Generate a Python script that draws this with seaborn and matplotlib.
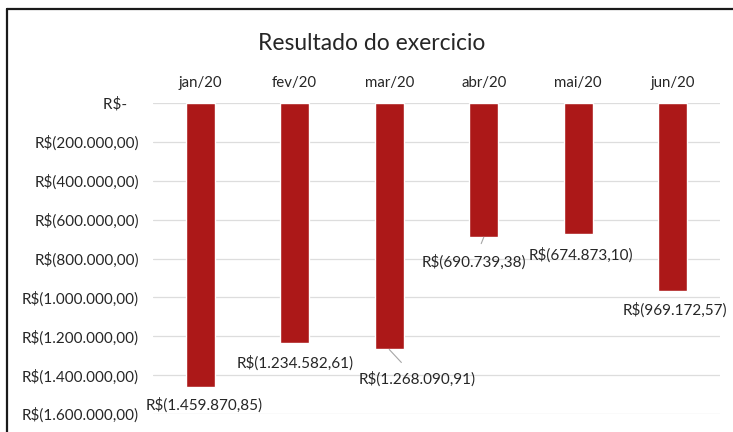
import matplotlib
matplotlib.use("Agg")
import matplotlib.pyplot as plt
import matplotlib.ticker as ticker
from matplotlib.lines import Line2D
import pandas as pd
import seaborn as sns


meses = ["jan/20", "fev/20", "mar/20", "abr/20", "mai/20", "jun/20"]
resultado = [-1459870.85, -1234582.61, -1268090.91, -690739.38, -674873.10, -969172.57]
y_ticks = [0, -200000, -400000, -600000, -800000, -1000000, -1200000, -1400000, -1600000]


def brl(v):
    """Formato contabil do Excel: R$(1.234,56) para negativos, R$- para zero."""
    if v == 0:
        return "R$-   "
    s = f"{abs(v):,.2f}".replace(",", "X").replace(".", ",").replace("X", ".")
    return f"R$({s})" if v < 0 else f"R${s}"


def main():
    df = pd.DataFrame({"Mes": meses, "Resultado": resultado})

    sns.set_style("white")
    plt.rcParams["font.family"] = ["Lato", "DejaVu Sans"]
    text_color = "#262626"

    fig = plt.figure(figsize=(7.33, 4.32), dpi=100)
    ax = fig.add_axes([153 / 733, 1 - 414 / 432, 567 / 733, 311 / 432])

    sns.barplot(data=df, x="Mes", y="Resultado", color="#AC1818",
                width=0.31, saturation=1, ax=ax, zorder=3)

    ax.set_ylim(-1600000, 0)
    ax.set_xlim(-0.5, len(meses) - 0.5)
    ax.set_yticks(y_ticks)
    ax.yaxis.set_major_formatter(ticker.FuncFormatter(lambda v, p: brl(v)))
    ax.xaxis.tick_top()
    ax.tick_params(axis="x", length=0, pad=9, labelsize=10.8, colors=text_color)
    ax.tick_params(axis="y", length=0, pad=10, labelsize=11, colors=text_color)
    ax.set_xlabel("")
    ax.set_ylabel("")
    ax.grid(axis="y", color="#DDDDDD", linewidth=0.9, zorder=0)
    for s in ax.spines.values():
        s.set_visible(False)

    # rotulos de dados (posicao em pixels a partir da base da barra)
    offsets = [(4, -18), (0, -20), (28, -30), (-10, -25), (3, -21), (2, -19)]
    leader = [False, False, True, True, False, False]
    for i, (v, off) in enumerate(zip(resultado, offsets)):
        arrow = dict(arrowstyle="-", color="#A6A6A6", lw=0.8,
                     shrinkA=6, shrinkB=0) if leader[i] else None
        ax.annotate(brl(v), xy=(i, v), xytext=off, textcoords="offset pixels",
                    ha="center", va="center", fontsize=11, color=text_color,
                    arrowprops=arrow, annotation_clip=False)

    fig.text(372 / 733, 1 - 43 / 432, "Resultado do exercicio",
             ha="center", va="center", fontsize=16.5, color=text_color)

    # moldura do recorte (topo e lado esquerdo)
    fig.add_artist(Line2D([7 / 733, 1], [1 - 9 / 432, 1 - 9 / 432],
                          color="#1A1A1A", lw=1.6, transform=fig.transFigure))
    fig.add_artist(Line2D([7 / 733, 7 / 733], [0, 1 - 9 / 432],
                          color="#1A1A1A", lw=1.6, transform=fig.transFigure))

    fig.savefig("out.png", dpi=100)


if __name__ == "__main__":
    main()
